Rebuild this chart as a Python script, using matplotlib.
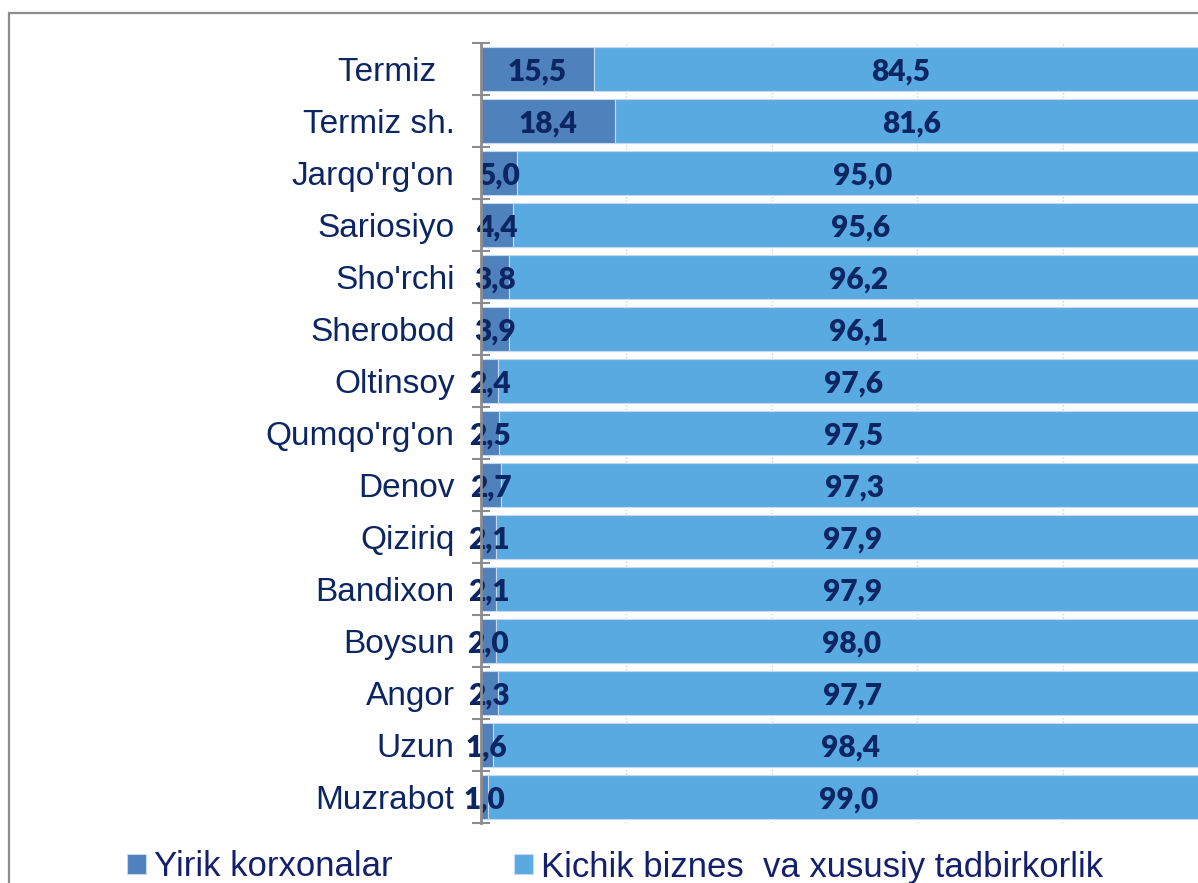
import matplotlib
matplotlib.use("Agg")
import matplotlib.pyplot as plt
from matplotlib.patches import Rectangle
from matplotlib.ticker import FixedLocator

categories = ["Termiz  ", "Termiz sh.", "Jarqo'rg'on", "Sariosiyo", "Sho'rchi", "Sherobod",
              "Oltinsoy", "Qumqo'rg'on", "Denov", "Qiziriq", "Bandixon", "Boysun",
              "Angor", "Uzun", "Muzrabot"]
large_enterprises = [15.5, 18.4, 5.0, 4.4, 3.8, 3.9, 2.4, 2.5, 2.7, 2.1, 2.1, 2.0, 2.3, 1.6, 1.0]
small_business = [84.5, 81.6, 95.0, 95.6, 96.2, 96.1, 97.6, 97.5, 97.3, 97.9, 97.9, 98.0, 97.7, 98.4, 99.0]
series_names = ["Yirik korxonalar", "Kichik biznes  va xususiy tadbirkorlik"]
grid_ticks = [20, 40, 60, 80]

W, H = 1198, 883
fig = plt.figure(figsize=(W / 100, H / 100), dpi=100)
fig.patch.set_facecolor("white")

# outer chart frame (cropped at right / bottom)
fig.patches.append(Rectangle((9 / W, -0.1), 2.0, (H - 13) / H + 0.1, transform=fig.transFigure,
                             fill=False, edgecolor="#8C8C8C", linewidth=1.6))

ax = fig.add_axes([481 / W, (H - 823) / H, (1208 - 481) / W, (823 - 43) / H])

navy = "#0C2563"
c_dark = "#4F81BD"
c_light = "#5AAAE2"

y = list(range(len(categories)))
b1 = ax.barh(y, large_enterprises, height=0.85, color=c_dark, edgecolor="#C5D9F1",
             linewidth=0.8, label=series_names[0], zorder=3)
b2 = ax.barh(y, small_business, left=large_enterprises, height=0.85, color=c_light,
             edgecolor="#C5D9F1", linewidth=0.8, label=series_names[1], zorder=3)

fmt = lambda v: f"{v:.1f}".replace(".", ",")
for bars, vals in ((b1, large_enterprises), (b2, small_business)):
    anns = ax.bar_label(bars, labels=[fmt(v) for v in vals], label_type="center",
                        fontfamily="Lato", fontweight=800, fontsize=21.5, color=navy, zorder=5)
    for a in anns:
        a.xyann = (0, -1.5)

ax.set_xlim(0, 100)
ax.set_ylim(len(categories) - 0.5, -0.5)
ax.set_yticks(y)
ax.set_yticklabels(categories, fontfamily="Liberation Sans", fontsize=24, color=navy)
ax.yaxis.set_minor_locator(FixedLocator([i - 0.5 for i in range(len(categories) + 1)]))
ax.tick_params(axis="y", which="major", direction="in", length=6, width=1.5,
               color="#8C8C8C", pad=19)
ax.tick_params(axis="y", which="minor", direction="inout", length=13, width=1.5,
               color="#8C8C8C")

ax.set_xticks(grid_ticks)
ax.tick_params(axis="x", which="both", length=0, labelbottom=False)
ax.xaxis.grid(True, linestyle=(0, (1, 1.5)), color="#D0D0D0", linewidth=1, zorder=0)
ax.set_axisbelow(True)

for s in ("top", "right", "bottom"):
    ax.spines[s].set_visible(False)
ax.spines["left"].set_color("#8C8C8C")
ax.spines["left"].set_linewidth(2)
ax.spines["left"].set_zorder(6)

leg = fig.legend(handles=[b1, b2], labels=series_names, loc="center left",
                 bbox_to_anchor=(127 / W, (H - 867) / H), ncol=2, frameon=False,
                 prop={"family": "Liberation Sans", "size": 25},
                 handlelength=0.55, handleheight=0.5, handletextpad=0.23,
                 columnspacing=3.5, borderpad=0, borderaxespad=0)
for t in leg.get_texts():
    t.set_color("#14206E")

fig.savefig("out.png", dpi=100, facecolor="white")
